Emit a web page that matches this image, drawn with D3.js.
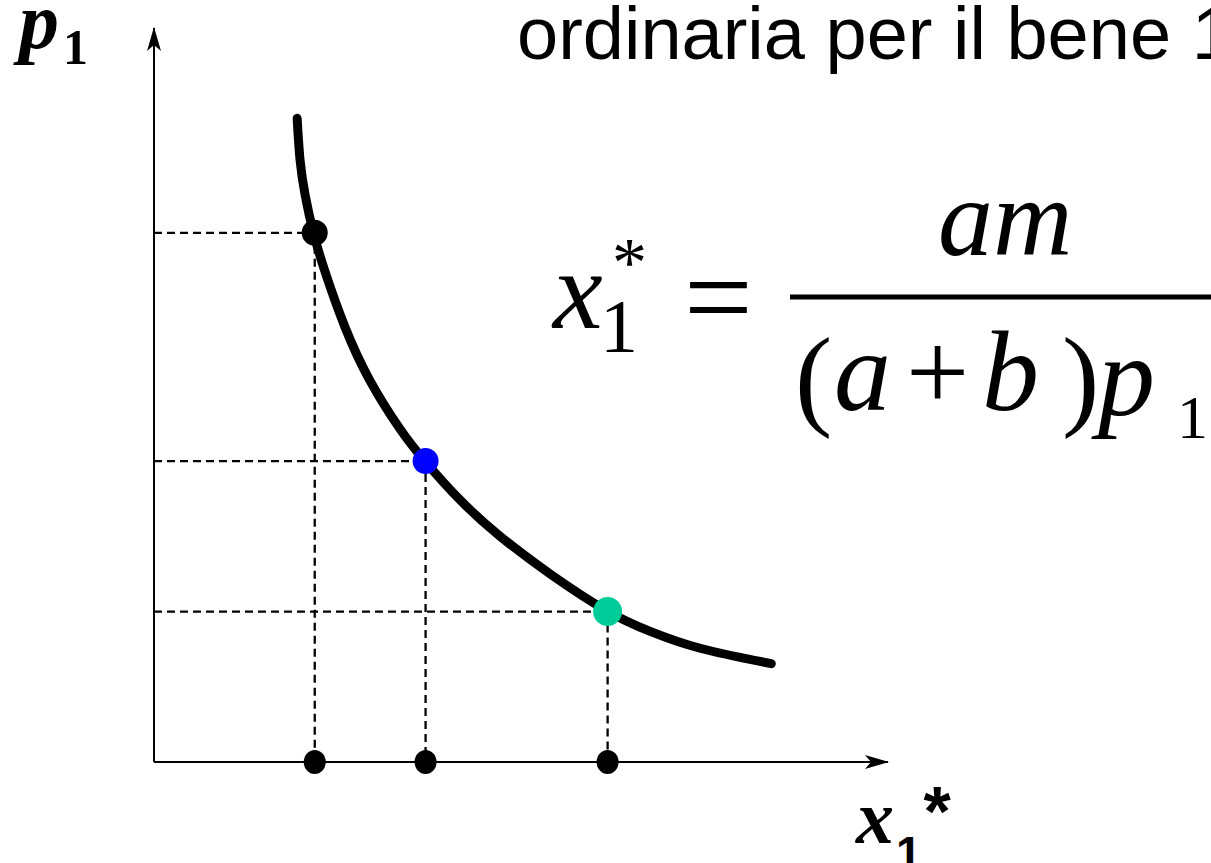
<!DOCTYPE html>
<html>
<head>
<meta charset="utf-8">
<script src="https://cdn.jsdelivr.net/npm/d3@7"></script>
<style>
  html, body { margin: 0; padding: 0; background: #fff; overflow: hidden; }
  svg { display: block; }
  .serif { font-family: 'Liberation Serif', 'Times New Roman', serif; }
  .sans  { font-family: 'Liberation Sans', Arial, sans-serif; }
</style>
</head>
<body>
<svg id="chart" width="1211" height="863"></svg>
<script>
// Demand curve for good 1: sample points (quantity x1*, price p1)
const curveQty   = [1.95, 1.99, 2.06, 2.17, 2.33, 2.60, 2.94, 3.35, 3.69, 4.17, 4.71, 5.40, 6.17, 6.76, 7.44, 8.41];
const curvePrice = [8.77, 8.20, 7.72, 7.22, 6.68, 5.93, 5.20, 4.54, 4.10, 3.57, 3.08, 2.56, 2.06, 1.78, 1.55, 1.34];

// Highlighted price levels and the quantities demanded at each
const pointQty    = [2.19, 3.70, 6.18];
const pointPrice  = [7.21, 4.10, 2.05];
const pointColors = ["#000000", "#0000ff", "#00cc99"];

const W = 1211, H = 863;
const svg = d3.select("#chart");

const x = d3.scaleLinear().domain([0, 10]).range([154, 888]);
const y = d3.scaleLinear().domain([0, 10]).range([762, 28]);

// Arrowheads for the axes
const defs = svg.append("defs");
defs.append("marker")
  .attr("id", "arrow")
  .attr("viewBox", "0 0 24 16")
  .attr("refX", 23).attr("refY", 8)
  .attr("markerWidth", 24).attr("markerHeight", 16)
  .attr("markerUnits", "userSpaceOnUse")
  .attr("orient", "auto")
  .append("path")
  .attr("d", "M0,1 L24,8 L0,15 L6,8 Z")
  .attr("fill", "#000");

// Axes
svg.append("line")
  .attr("x1", x(0)).attr("y1", y(0))
  .attr("x2", x(0)).attr("y2", y(10))
  .attr("stroke", "#000").attr("stroke-width", 2)
  .attr("marker-end", "url(#arrow)");
svg.append("line")
  .attr("x1", x(0)).attr("y1", y(0))
  .attr("x2", x(10)).attr("y2", y(0))
  .attr("stroke", "#000").attr("stroke-width", 2)
  .attr("marker-end", "url(#arrow)");

const pts = pointQty.map((q, i) => ({ q, p: pointPrice[i], c: pointColors[i] }));

// Dashed guides from each point to the axes
const guides = svg.append("g")
  .attr("stroke", "#000").attr("stroke-width", 2.3)
  .attr("stroke-dasharray", "8,5").attr("fill", "none");
guides.selectAll(".h").data(pts).join("line")
  .attr("x1", x(0)).attr("y1", d => y(d.p))
  .attr("x2", d => x(d.q)).attr("y2", d => y(d.p));
guides.selectAll(".v").data(pts).join("line")
  .attr("x1", d => x(d.q)).attr("y1", d => y(d.p))
  .attr("x2", d => x(d.q)).attr("y2", y(0));

// Demand curve
const curveData = curveQty.map((q, i) => [q, curvePrice[i]]);
svg.append("path")
  .datum(curveData)
  .attr("d", d3.line().x(d => x(d[0])).y(d => y(d[1])).curve(d3.curveNatural))
  .attr("fill", "none")
  .attr("stroke", "#000")
  .attr("stroke-width", 9)
  .attr("stroke-linecap", "round");

// Points on the curve
svg.selectAll(".pt").data(pts).join("circle")
  .attr("cx", d => x(d.q)).attr("cy", d => y(d.p))
  .attr("r", d => d.c === "#00cc99" ? 14.5 : 13)
  .attr("fill", d => d.c);

// Quantities on the horizontal axis
svg.selectAll(".qt").data(pts).join("ellipse")
  .attr("cx", d => x(d.q)).attr("cy", y(0))
  .attr("rx", 11).attr("ry", 12)
  .attr("fill", "#000");

// Axis labels
const pLab = svg.append("text").attr("class", "serif").attr("x", 19).attr("y", 48);
pLab.append("tspan").attr("font-size", 80).attr("font-weight", "bold").attr("font-style", "italic").text("p");
pLab.append("tspan").attr("font-size", 50).attr("font-weight", "bold").attr("dy", 16).attr("dx", 4).text("1");

const xLab = svg.append("text").attr("x", 856).attr("y", 843);
xLab.append("tspan").attr("class", "serif")
  .attr("font-size", 76).attr("font-weight", "bold").attr("font-style", "italic").text("x");
xLab.append("tspan").attr("class", "sans")
  .attr("font-size", 46).attr("font-weight", "bold").attr("dy", 26).attr("dx", 2).text("1");
xLab.append("tspan").attr("class", "sans")
  .attr("font-size", 70).attr("font-weight", "bold").attr("dy", -33).attr("dx", 2).text("*");

// Title (runs past the right edge)
svg.append("text").attr("class", "sans").attr("x", 517).attr("y", 59)
  .attr("font-size", 74)
  .text("ordinaria per il bene 1");

// Formula x1* = am / ((a + b) p1)
const f = svg.append("g").attr("class", "serif").attr("fill", "#000");
f.append("text").attr("x", 553).attr("y", 328).attr("font-size", 112).attr("font-style", "italic").text("x");
f.append("text").attr("x", 600).attr("y", 352).attr("font-size", 76).text("1");
f.append("text").attr("x", 612).attr("y", 286).attr("font-size", 70).text("*");
f.append("text").attr("x", 684).attr("y", 338).attr("font-size", 122).text("=");
f.append("line").attr("x1", 790).attr("y1", 297).attr("x2", W + 5).attr("y2", 297)
  .attr("stroke", "#000").attr("stroke-width", 5);
f.append("text").attr("x", 938).attr("y", 255).attr("font-size", 110).attr("font-style", "italic").text("am");
f.append("text").attr("x", 795).attr("y", 415).attr("font-size", 112).text("(");
f.append("text").attr("x", 834).attr("y", 410).attr("font-size", 114).attr("font-style", "italic").text("a");
f.append("text").attr("x", 906).attr("y", 410).attr("font-size", 112).text("+");
f.append("text").attr("x", 982).attr("y", 410).attr("font-size", 114).attr("font-style", "italic").text("b");
f.append("text").attr("x", 1062).attr("y", 415).attr("font-size", 112).text(")");
f.append("text").attr("x", 1098).attr("y", 415).attr("font-size", 114).attr("font-style", "italic").text("p");
f.append("text").attr("x", 1177).attr("y", 438).attr("font-size", 62).text("1");
</script>
</body>
</html>
